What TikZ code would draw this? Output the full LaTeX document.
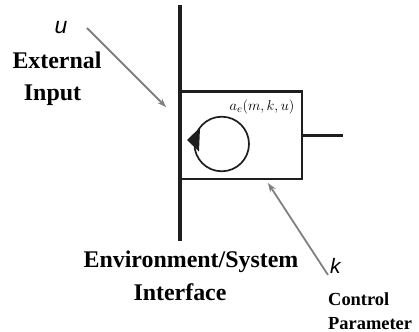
\documentclass[tikz,border=0pt]{standalone}
\usepackage{fontspec}
\setmainfont{Liberation Serif}
\newfontfamily\sansit{Liberation Sans}
\usepackage{tikz}
\usetikzlibrary{arrows.meta}
\definecolor{cizgi}{HTML}{1E1E1E}
\definecolor{okGri}{HTML}{808080}

\begin{document}
\begin{tikzpicture}[x=1bp,y=1bp,
  baslik/.style={inner sep=0pt,anchor=base,font=\fontsize{24}{28}\selectfont\bfseries},
  kucuk/.style={inner sep=0pt,anchor=base west,font=\fontsize{18.5}{22}\selectfont\bfseries},
  degisken/.style={inner sep=0pt,anchor=base,font=\fontsize{23}{26}\selectfont\sansit\itshape},
  gri ok/.style={draw=okGri,line width=1.8bp,-{Stealth[length=9bp,width=6.5bp]}}]
\useasboundingbox (0,0) rectangle (419,332);
% interface wall and system box
\draw[cizgi,line width=3.8bp] (180,327)--(180,91);
\node[draw=cizgi,line width=2.8bp,minimum width=122bp,minimum height=87.5bp,inner sep=0pt] (sys) at (241,196.7) {};
\draw[cizgi,line width=2.8bp] (sys.east)--++(40,0);
% internal loop
\draw[cizgi,line width=1.7bp] (221.7,188) circle[radius=27.3bp];
\fill[cizgi] (187,192)--(200,204.5)--(199,180.5)--cycle;
\node[inner sep=0pt,anchor=base,font=\fontsize{15}{18}\selectfont] (dyn) at (262,222) {$a_{e}(m,k,u)$};
% external input
\node[degisken] (u) at (61,299) {u};
\node[baslik] (ext) at (57,264) {External};
\node[baslik] (inp) at (52.5,232) {Input};
\coordinate (uKuyruk) at (87,304);
\coordinate (uUc) at (166,225);
\draw[gri ok] (uKuyruk)--(uUc);
% interface label
\node[baslik] (env) at (191,65) {Environment/System};
\node[baslik] (ifc) at (180,32) {Interface};
% control parameter
\node[degisken,font=\fontsize{21}{24}\selectfont\sansit\itshape,anchor=base west] (k) at (330,59) {k};
\node[kucuk] (ctl) at (328,27) {Control};
\node[kucuk] (par) at (328,3) {Parameter};
\coordinate (kKuyruk) at (328,57);
\coordinate (kUc) at (268,149);
\draw[gri ok] (kKuyruk)--(kUc);
\end{tikzpicture}
\end{document}
